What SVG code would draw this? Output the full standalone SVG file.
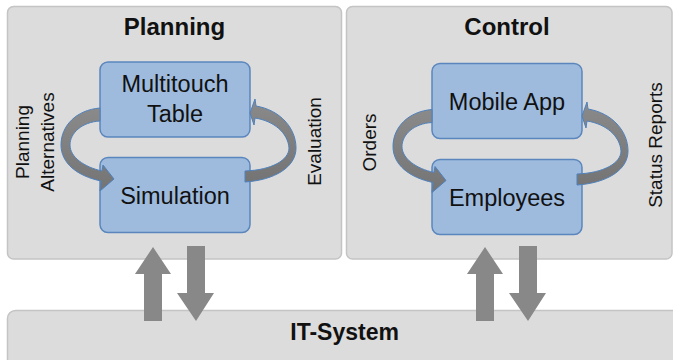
<svg xmlns="http://www.w3.org/2000/svg" width="673" height="360" viewBox="0 0 673 360">
  <style>
    .panel { fill: #dcdcdc; stroke: #c4c4c4; stroke-width: 1.5; }
    .node { fill: #9ebbde; stroke: #5a86bd; stroke-width: 1.5; }
    .title { font-family: "Liberation Sans", Arial, sans-serif; font-weight: bold; font-size: 24px; fill: #111; text-anchor: middle; }
    .label { font-family: "Liberation Sans", Arial, sans-serif; font-size: 23.5px; fill: #111; text-anchor: middle; }
    .side { font-family: "Liberation Sans", Arial, sans-serif; font-size: 19px; fill: #111; text-anchor: middle; }
    .flow { fill: #888888; }
    .loop { fill: url(#loopShade); stroke: #4f81bd; stroke-width: 1; }
  </style>
  <defs>
    <linearGradient id="loopShade" x1="0" y1="0" x2="0" y2="1">
      <stop offset="0" stop-color="#8a8a8a"/>
      <stop offset="1" stop-color="#747474"/>
    </linearGradient>
    <!-- curved arrow on the left of a pair: leaves the upper node, enters the lower one -->
    <path id="loopDown" class="loop" d="M 100,108 C 76,110 61,126 61,145 C 61,163 77,176 101,181 L 100,191 L 114,179 L 103,165 L 102,171 C 84,167 70,157 70,145 C 70,133 82,122 100,121 Z"/>
    <!-- curved arrow on the right of a pair: leaves the lower node, enters the upper one -->
    <path id="loopUp" class="loop" d="M 245,182 C 275,180 296,167 296,148 C 296,128 280,110 256,106 L 255,99 L 250,113 L 254,125 L 255,118 C 274,121 288,133 289,148 C 289,160 272,170 245,171 Z"/>
  </defs>

  <rect width="673" height="360" fill="#ffffff"/>

  <!-- Planning panel -->
  <g id="planning">
    <rect class="panel" x="7.5" y="6.5" width="334" height="252.5" rx="6"/>
    <text class="title" x="174.5" y="35">Planning</text>
  </g>

  <!-- Control panel -->
  <g id="control">
    <rect class="panel" x="346.5" y="6.5" width="325.5" height="252.5" rx="6"/>
    <text class="title" x="507" y="35">Control</text>
  </g>

  <!-- IT-System bar -->
  <g id="it-system">
    <rect class="panel" x="7.5" y="310.5" width="680" height="60" rx="8"/>
    <text class="title" x="344.6" y="339.5" style="font-size:23px">IT-System</text>
  </g>

  <g id="multitouch-table">
    <rect class="node" x="100" y="62" width="150" height="75" rx="8"/>
    <text class="label" x="175" y="92">Multitouch</text>
    <text class="label" x="175" y="122">Table</text>
  </g>

  <g id="simulation">
    <rect class="node" x="100" y="157.5" width="150" height="75" rx="8"/>
    <text class="label" x="175" y="204">Simulation</text>
  </g>

  <g id="mobile-app">
    <rect class="node" x="432" y="63.5" width="150" height="75" rx="8"/>
    <text class="label" x="507" y="110">Mobile App</text>
  </g>

  <g id="employees">
    <rect class="node" x="432" y="159.5" width="150" height="75" rx="8"/>
    <text class="label" x="507" y="205.5">Employees</text>
  </g>

  <!-- connectors -->
  <g id="connectors">
    <use href="#loopDown"/>
    <use href="#loopUp"/>
    <use href="#loopDown" transform="translate(332,1.5)"/>
    <use href="#loopUp" transform="translate(332,3)"/>

    <polygon class="flow" points="153,247 171,274 162,274 162,321 144,321 144,274 135,274"/>
    <polygon class="flow" points="187,246 205,246 205,293 214,293 196,321 177,293 187,293"/>
    <polygon class="flow" points="485,247 503,274 494,274 494,321 476,321 476,274 467,274"/>
    <polygon class="flow" points="519,246 537,246 537,293 546,293 528,321 509,293 519,293"/>
  </g>

  <!-- connector labels -->
  <g id="connector-labels">
    <text class="side" transform="translate(29,142) rotate(-90)">Planning</text>
    <text class="side" transform="translate(53.5,142) rotate(-90)">Alternatives</text>
    <text class="side" transform="translate(321,141.5) rotate(-90)">Evaluation</text>
    <text class="side" transform="translate(376,142.5) rotate(-90)">Orders</text>
    <text class="side" transform="translate(661.5,145) rotate(-90)">Status Reports</text>
  </g>
</svg>
